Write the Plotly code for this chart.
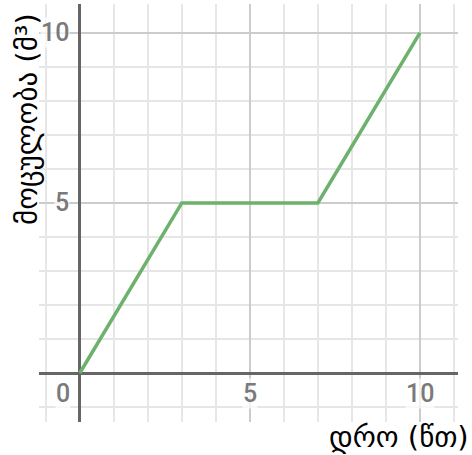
import plotly.graph_objects as go

# Data
time_min = [0, 3, 7, 10]
volume_m3 = [0, 5, 5, 10]

x_tick_vals = [5, 10]
y_tick_vals = [5, 10]
origin_label = "0"

x_title = "დრო (წთ)"
y_title = "მოცულობა (მ³)"

fig = go.Figure()

fig.add_trace(go.Scatter(
    x=time_min, y=volume_m3, mode='lines',
    line=dict(color='#6cb26c', width=3.5),
    hoverinfo='skip'
))

axis_common = dict(
    dtick=5, showgrid=True, gridcolor='#cccccc', gridwidth=2,
    minor=dict(dtick=1, showgrid=True, gridcolor='#e6e6e6', gridwidth=2),
    zeroline=True, zerolinecolor='#666666', zerolinewidth=3,
    showticklabels=False, ticks='', showline=False, fixedrange=True
)

fig.update_layout(
    width=472, height=455,
    margin=dict(l=39, r=14, t=4, b=33),
    paper_bgcolor='white', plot_bgcolor='white',
    showlegend=False,
    xaxis=dict(range=[-1.2, 11.12], **axis_common),
    yaxis=dict(range=[-1.44, 10.85], **axis_common),
)

label_font = dict(family='Roboto, Arial', size=25, color='#7a7a7a', weight=500)

# tick labels along the x axis
for v in x_tick_vals:
    fig.add_annotation(x=v, y=0, text=str(v), showarrow=False, yshift=-20,
                       font=label_font, bgcolor='rgba(255,255,255,0.7)', borderpad=0)

# tick labels along the y axis
for v in y_tick_vals:
    fig.add_annotation(x=0, y=v, text=str(v), showarrow=False, xanchor='right', xshift=-10,
                       font=label_font, bgcolor='rgba(255,255,255,0.7)', borderpad=0)

fig.add_annotation(x=0, y=0, text=origin_label, showarrow=False, xshift=-17, yshift=-20,
                   font=label_font, bgcolor='rgba(255,255,255,0.7)', borderpad=0)

fig.add_annotation(xref='paper', yref='paper', x=1.03, y=0, yshift=-15,
                   xanchor='right', yanchor='middle', text=x_title,
                   showarrow=False, font=dict(family='DejaVu Sans', size=29, color='black'))
fig.add_annotation(xref='paper', yref='paper', x=0, xshift=-12, y=0.725,
                   xanchor='center', yanchor='middle', text=y_title, textangle=-90,
                   showarrow=False, font=dict(family='DejaVu Sans', size=29, color='black'))

fig.write_html("out.html", config={'displayModeBar': False},
               post_script="document.body.style.margin='0';")
